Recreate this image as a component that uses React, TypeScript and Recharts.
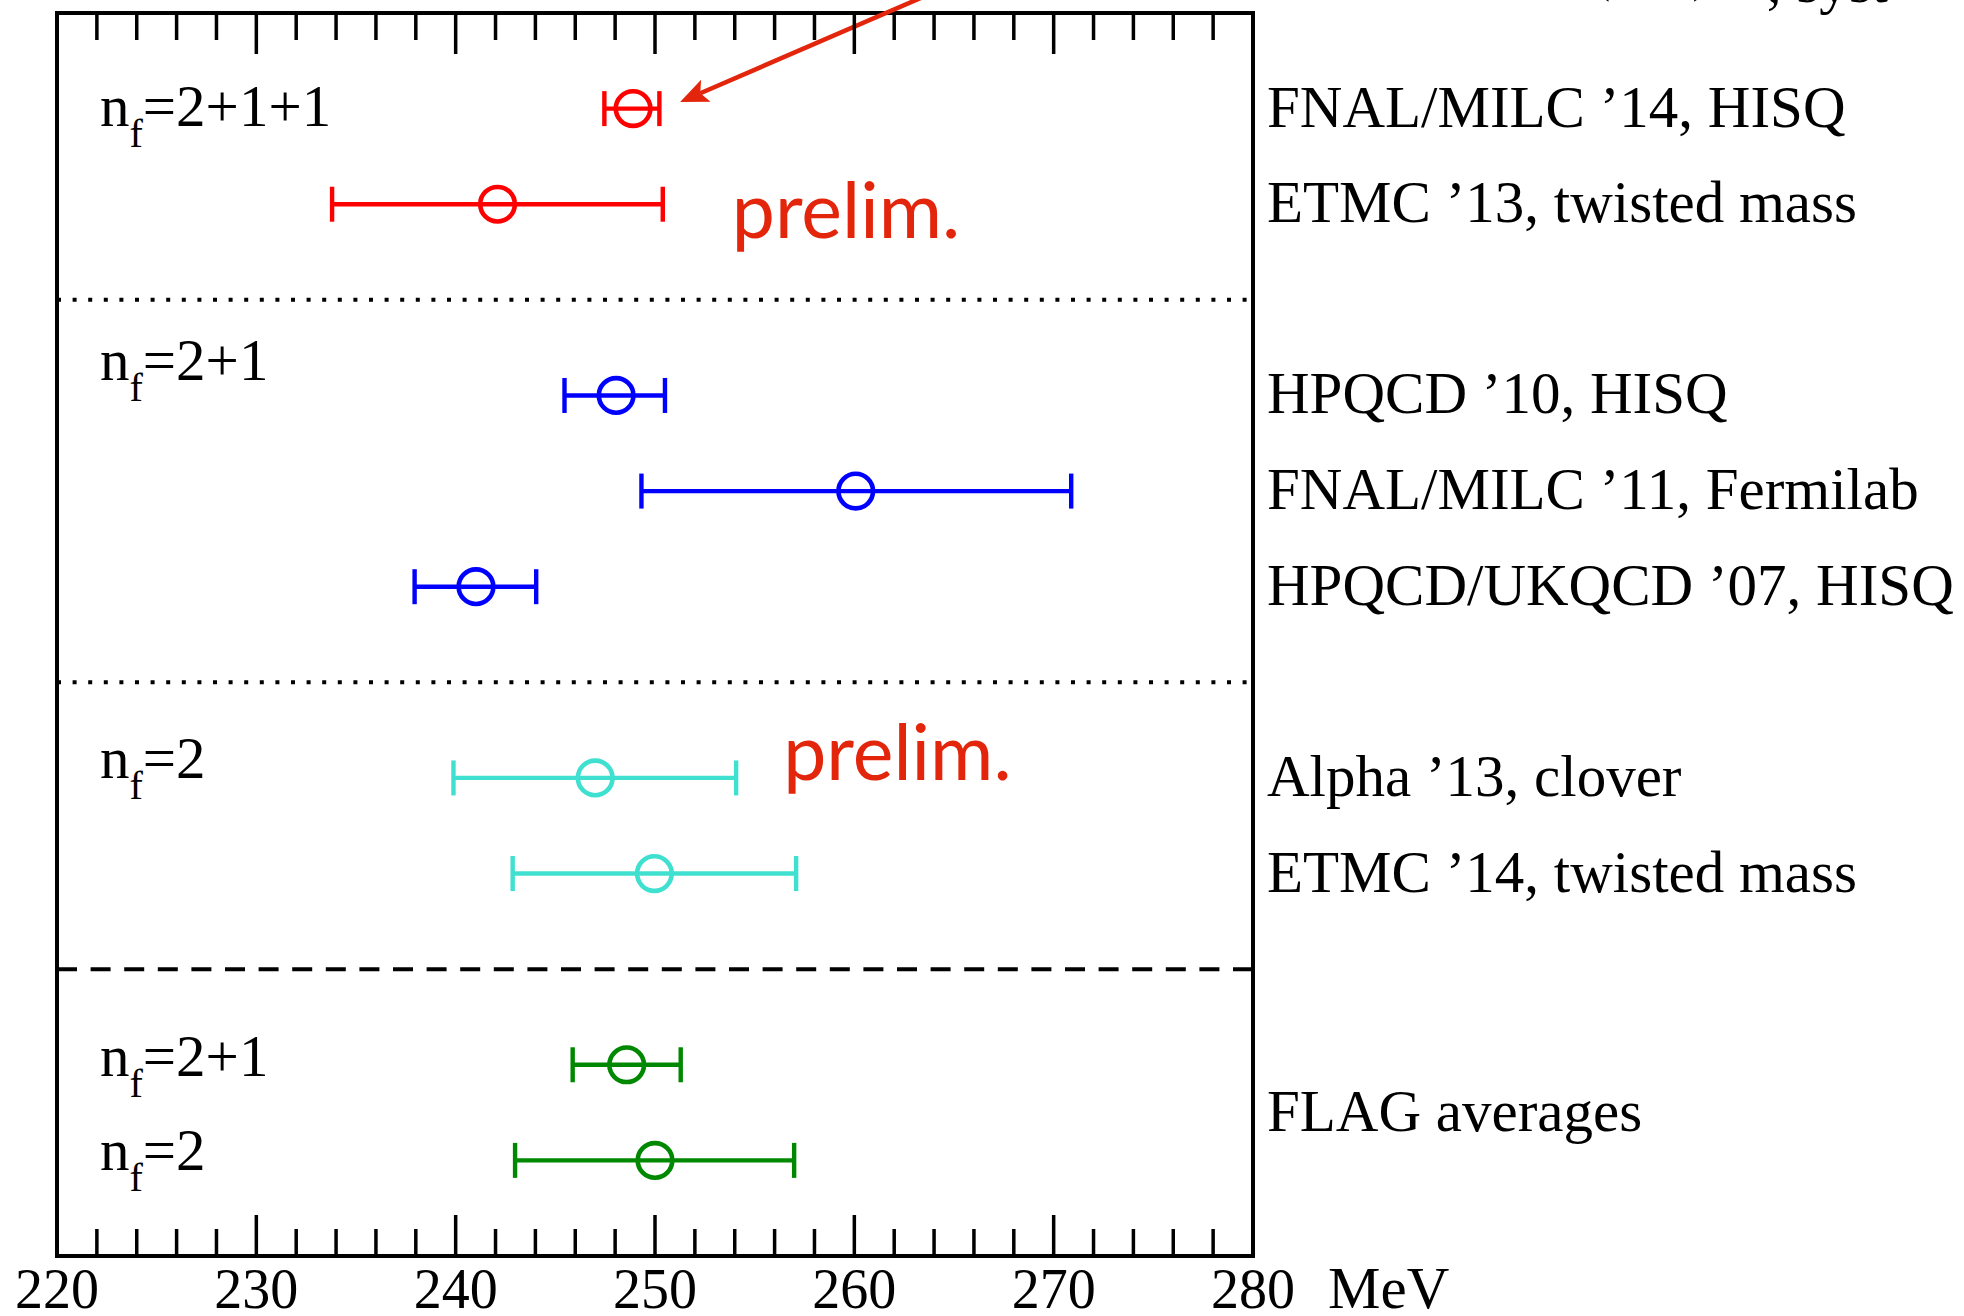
import React from 'react';
import {
  ScatterChart,
  Scatter,
  XAxis,
  YAxis,
  ErrorBar,
  ReferenceLine,
  ReferenceArea,
  Customized,
} from 'recharts';

// ---------- data ----------
const minorTicks = [
  220, 222, 224, 226, 228, 230, 232, 234, 236, 238, 240, 242, 244, 246, 248, 250,
  252, 254, 256, 258, 260, 262, 264, 266, 268, 270, 272, 274, 276, 278, 280,
];
const majorTicks = [220, 230, 240, 250, 260, 270, 280];
const unitLabel = 'MeV';

// n_f = 2+1+1 (red)
const redRows = [12, 11];
const redValues = [248.9, 242.1];
const redLow = [247.46, 233.8];
const redHigh = [250.22, 250.39];

// n_f = 2+1 (blue)
const blueRows = [9, 8, 7];
const blueValues = [248.05, 260.07, 241.02];
const blueLow = [245.46, 249.32, 237.94];
const blueHigh = [250.5, 270.88, 244.04];

// n_f = 2 (turquoise)
const cyanRows = [5, 4];
const cyanValues = [247.0, 249.97];
const cyanLow = [239.89, 242.86];
const cyanHigh = [254.07, 257.08];

// FLAG averages (green)
const greenRows = [2, 1];
const greenValues = [248.58, 250.0];
const greenLow = [245.87, 242.98];
const greenHigh = [251.29, 256.98];

const rightLabels = [
  'FNAL/MILC ’14, HISQ',
  'ETMC ’13, twisted mass',
  'HPQCD ’10, HISQ',
  'FNAL/MILC ’11, Fermilab',
  'HPQCD/UKQCD ’07, HISQ',
  'Alpha ’13, clover',
  'ETMC ’14, twisted mass',
  'FLAG averages',
];
const rightLabelRows = [12, 11, 9, 8, 7, 5, 4, 1.5];

const nfLabels = ['2+1+1', '2+1', '2', '2+1', '2'];
const nfLabelRows = [11.82, 9.16, 5.0, 1.88, 0.9];

const prelimLabels = ['prelim.', 'prelim.'];
const prelimX = [253.85, 256.43];
const prelimRows = [10.65, 4.98];

const dottedRows = [10, 6];
const dashedRows = [3];

const arrowFrom = { x: 264.25, y: 13.24 };
const arrowTo = { x: 251.26, y: 12.07 };

const topNoteHidden = 'errors: (stat)';
const topNoteVisible = ', syst';

// ---------- helpers ----------
const build = (rows: number[], vals: number[], lo: number[], hi: number[]) =>
  rows.map((y, i) => ({ x: vals[i], y, err: [vals[i] - lo[i], hi[i] - vals[i]] }));

const redData = build(redRows, redValues, redLow, redHigh);
const blueData = build(blueRows, blueValues, blueLow, blueHigh);
const cyanData = build(cyanRows, cyanValues, cyanLow, cyanHigh);
const greenData = build(greenRows, greenValues, greenLow, greenHigh);

const rightLabelData = rightLabels.map((t, i) => ({ x: 280, y: rightLabelRows[i], t }));
const nfLabelData = nfLabels.map((t, i) => ({ x: 220, y: nfLabelRows[i], t }));
const prelimData = prelimLabels.map((t, i) => ({ x: prelimX[i], y: prelimRows[i], t }));

const W = 1964;
const H = 1316;
const M = { top: 13, right: 711, bottom: 0, left: 57 };
const XAXIS_H = 60;
const PLOT_H = H - M.top - M.bottom - XAXIS_H;

const SERIF = '"Liberation Serif", "Times New Roman", serif';
const SANS = 'Lato, "Open Sans", sans-serif';

const RED = '#ff0000';
const BLUE = '#0000ff';
const CYAN = '#40e0d0';
const GREEN = '#008800';
const PRELIM = '#e3260b';

const circleShape = (color: string) => (p: any) => (
  <circle cx={p.cx} cy={p.cy} r={17.3} fill="none" stroke={color} strokeWidth={4.6} />
);

const rightLabelShape = (p: any) => (
  <text x={p.cx + 14} y={p.cy + 18} fontFamily={SERIF} fontSize={59} fill="#000">
    {p.payload.t}
  </text>
);

const nfLabelShape = (p: any) => (
  <text x={p.cx + 43} y={p.cy} fontFamily={SERIF} fontSize={59} fill="#000">
    <tspan>n</tspan>
    <tspan dy={21} fontSize={40}>f</tspan>
    <tspan dy={-21}>={p.payload.t}</tspan>
  </text>
);

const prelimShape = (p: any) => (
  <text x={p.cx} y={p.cy} fontFamily={SANS} fontSize={77} fill={PRELIM}>
    {p.payload.t}
  </text>
);

const renderTick = (props: any) => {
  const { x, y, payload } = props;
  const v = payload.value;
  const major = majorTicks.includes(v);
  const len = major ? 41 : 27;
  return (
    <g>
      <line x1={x} y1={y} x2={x} y2={y - len} stroke="#000" strokeWidth={3.5} />
      <line x1={x} y1={y - PLOT_H} x2={x} y2={y - PLOT_H + len} stroke="#000" strokeWidth={3.5} />
      {major && (
        <text x={x} y={y + 52} textAnchor="middle" fontFamily={SERIF} fontSize={56} fill="#000">
          {v}
        </text>
      )}
      {v === majorTicks[majorTicks.length - 1] && (
        <text x={x + 75} y={y + 52} fontFamily={SERIF} fontSize={59} fill="#000">
          {unitLabel}
        </text>
      )}
    </g>
  );
};

const arrowShape = (p: any) => {
  const { x1, y1, x2, y2 } = p;
  const dx = x2 - x1;
  const dy = y2 - y1;
  const L = Math.sqrt(dx * dx + dy * dy) || 1;
  const ux = dx / L;
  const uy = dy / L;
  const hl = 28;
  const hw = 12;
  const bx = x2 - ux * hl;
  const by = y2 - uy * hl;
  const nx = -uy;
  const ny = ux;
  return (
    <g>
      <line x1={x1} y1={y1} x2={bx + ux * 6} y2={by + uy * 6} stroke={PRELIM} strokeWidth={4.5} />
      <polygon
        points={`${x2},${y2} ${bx + nx * hw},${by + ny * hw} ${bx + ux * 6},${by + uy * 6} ${bx - nx * hw},${by - ny * hw}`}
        fill={PRELIM}
      />
    </g>
  );
};

const TopNote = () => (
  <g>
    <text x={1712} y={-11} textAnchor="end" fontFamily={SERIF} fontSize={59} fill="#000">
      {topNoteHidden}
    </text>
    <text x={1888} y={2} textAnchor="end" fontFamily={SERIF} fontSize={59} fill="#000">
      {topNoteVisible}
    </text>
  </g>
);

export default function App() {
  return (
    <div style={{ position: 'absolute', left: 0, top: 0, width: W, height: H, background: '#fff' }}>
      <ScatterChart width={W} height={H} margin={M}>
        <XAxis
          dataKey="x"
          type="number"
          domain={[220, 280]}
          ticks={minorTicks}
          interval={0}
          axisLine={false}
          tickLine={false}
          tickSize={0}
          tickMargin={0}
          height={XAXIS_H}
          tick={renderTick}
        />
        <YAxis dataKey="y" type="number" domain={[0, 13]} hide width={0} />

        {dottedRows.map((r) => (
          <ReferenceLine key={'d' + r} y={r} stroke="#000" strokeWidth={4} strokeDasharray="4 11.6" />
        ))}
        {dashedRows.map((r) => (
          <ReferenceLine key={'s' + r} y={r} stroke="#000" strokeWidth={4} strokeDasharray="20 13.6" />
        ))}
        <ReferenceArea x1={220} x2={280} y1={0} y2={13} fill="none" fillOpacity={0} stroke="#000" strokeWidth={4} />

        <Scatter data={redData} shape={circleShape(RED)} isAnimationActive={false}>
          <ErrorBar dataKey="err" direction="x" width={17.5} strokeWidth={4.4} stroke={RED} isAnimationActive={false} />
        </Scatter>
        <Scatter data={blueData} shape={circleShape(BLUE)} isAnimationActive={false}>
          <ErrorBar dataKey="err" direction="x" width={17.5} strokeWidth={4.4} stroke={BLUE} isAnimationActive={false} />
        </Scatter>
        <Scatter data={cyanData} shape={circleShape(CYAN)} isAnimationActive={false}>
          <ErrorBar dataKey="err" direction="x" width={17.5} strokeWidth={4.4} stroke={CYAN} isAnimationActive={false} />
        </Scatter>
        <Scatter data={greenData} shape={circleShape(GREEN)} isAnimationActive={false}>
          <ErrorBar dataKey="err" direction="x" width={17.5} strokeWidth={4.4} stroke={GREEN} isAnimationActive={false} />
        </Scatter>

        <Scatter data={rightLabelData} shape={rightLabelShape} isAnimationActive={false} />
        <Scatter data={nfLabelData} shape={nfLabelShape} isAnimationActive={false} />
        <Scatter data={prelimData} shape={prelimShape} isAnimationActive={false} />

        <ReferenceLine segment={[arrowFrom, arrowTo]} ifOverflow="visible" shape={arrowShape} />
        <Customized component={TopNote} />
      </ScatterChart>
    </div>
  );
}
